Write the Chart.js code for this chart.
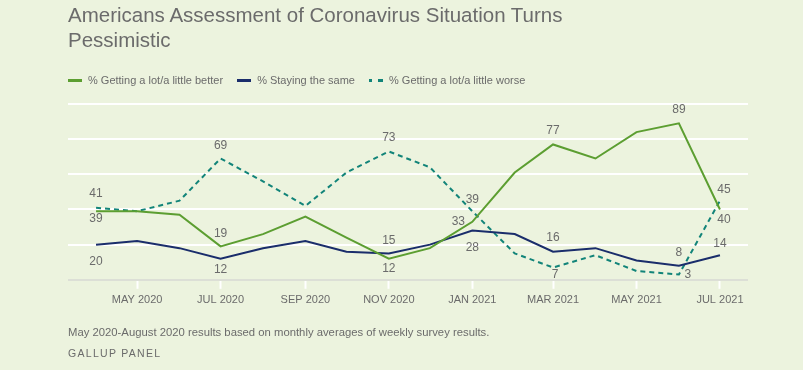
<!DOCTYPE html>
<html>
<head>
<meta charset="utf-8">
<script src="https://cdn.jsdelivr.net/npm/chart.js@4"></script>
<style>
  body { margin: 0; background: #ecf3de; }
  #wrap { position: relative; width: 803px; height: 370px; background: #ecf3de; font-family: "Liberation Sans", Arial, sans-serif; color: #6b6b6b; }
  #chart { position: absolute; left: 0; top: 0; }
  .title { position: absolute; left: 68px; top: 2px; font-size: 20.5px; line-height: 25px; }
  .legend { position: absolute; left: 68px; top: 73px; display: flex; font-size: 11px; line-height: 14px; }
  .legend span { display: flex; align-items: center; margin-right: 14px; }
  .legend i { display: inline-block; width: 14px; height: 0; border-top: 3px solid; margin-right: 6px; }
  .note { position: absolute; left: 68px; top: 326px; font-size: 11.3px; }
  .src { position: absolute; left: 68px; top: 347px; font-size: 10.5px; letter-spacing: 1.3px; }
</style>
</head>
<body>
<div id="wrap">
  <canvas id="chart" width="803" height="370"></canvas>
  <div class="title">Americans Assessment of Coronavirus Situation Turns<br>Pessimistic</div>
  <div class="legend">
    <span><i style="border-color:#5c9e31"></i>% Getting a lot/a little better</span>
    <span><i style="border-color:#1a2d6b"></i>% Staying the same</span>
    <span><i style="border-color:#128479; border-image: repeating-linear-gradient(90deg,#128479 0 4px,transparent 4px 9px) 1;"></i>% Getting a lot/a little worse</span>
  </div>
  <div class="note">May 2020-August 2020 results based on monthly averages of weekly survey results.</div>
  <div class="src">GALLUP PANEL</div>
</div>
<script>
const months = ["2020-04", "2020-05", "2020-06", "2020-07", "2020-08", "2020-09", "2020-10", "2020-11",
  "2020-12", "2021-01", "2021-02", "2021-03", "2021-04", "2021-05", "2021-06", "2021-07"];
const better = [39, 39, 37, 19, 26, 36, 24, 12, 18, 33, 61, 77, 69, 84, 89, 40];
const same = [20, 22, 18, 12, 18, 22, 16, 15, 20, 28, 26, 16, 18, 11, 8, 14];
const worse = [41, 39, 45, 69, 56, 42, 61, 73, 64, 39, 15, 7, 14, 5, 3, 45];

const tickMonths = ["2020-05", "2020-07", "2020-09", "2020-11", "2021-01", "2021-03", "2021-05", "2021-07"];
const tickLabels = ["MAY 2020", "JUL 2020", "SEP 2020", "NOV 2020", "JAN 2021", "MAR 2021", "MAY 2021", "JUL 2021"];

// which points get a value label: [dataset, index, dx, dy]
const labelSpots = [
  [0, 0, 0, 7], [0, 3, 0, -13], [0, 7, 0, 10], [0, 9, -14, 0], [0, 11, 0, -14], [0, 14, 0, -14], [0, 15, 4, 10],
  [1, 0, 0, 17], [1, 3, 0, 11], [1, 7, 0, -13], [1, 9, 0, 17], [1, 11, 0, -14], [1, 14, 0, -13], [1, 15, 0, -12],
  [2, 0, 0, -14], [2, 3, 0, -13], [2, 7, 0, -14], [2, 9, 0, -12], [2, 11, 2, 7], [2, 14, 9, 0], [2, 15, 4, -11]
];

function day(m) {
  const [y, mo] = m.split("-").map(Number);
  return Date.UTC(y, mo - 1, 1) / 86400000;
}

const pts = arr => arr.map((v, i) => ({ x: day(months[i]), y: v }));

const valueLabels = {
  id: "valueLabels",
  afterDatasetsDraw(chart) {
    const ctx = chart.ctx;
    ctx.save();
    ctx.font = "12px 'Liberation Sans', Arial, sans-serif";
    ctx.fillStyle = "#6b6b6b";
    ctx.textAlign = "center";
    ctx.textBaseline = "middle";
    labelSpots.forEach(([d, i, dx, dy]) => {
      const p = chart.getDatasetMeta(d).data[i];
      const v = chart.data.datasets[d].data[i].y;
      ctx.fillText(v, p.x + dx, p.y + dy);
    });
    ctx.restore();
  }
};

new Chart(document.getElementById("chart"), {
  type: "line",
  data: {
    datasets: [
      { label: "% Getting a lot/a little better", data: pts(better), borderColor: "#5c9e31", borderWidth: 2 },
      { label: "% Staying the same", data: pts(same), borderColor: "#1a2d6b", borderWidth: 2 },
      { label: "% Getting a lot/a little worse", data: pts(worse), borderColor: "#128479", borderWidth: 2, borderDash: [5, 4] }
    ]
  },
  options: {
    responsive: false,
    animation: false,
    layout: { padding: { left: 68, right: 55, top: 104, bottom: 58 } },
    elements: { point: { radius: 0 }, line: { tension: 0 } },
    plugins: { legend: { display: false }, tooltip: { enabled: false } },
    scales: {
      x: {
        type: "linear",
        min: day("2020-04") - 20.5,
        max: day("2021-07") + 20.5,
        afterBuildTicks: axis => { axis.ticks = tickMonths.map(m => ({ value: day(m) })); },
        ticks: {
          autoSkip: false,
          maxRotation: 0,
          padding: 5,
          color: "#6b6b6b",
          font: { size: 11, family: "'Liberation Sans', Arial, sans-serif" },
          callback: v => tickLabels[tickMonths.findIndex(m => day(m) === v)]
        },
        grid: { drawOnChartArea: false, drawTicks: true, tickLength: 9, tickColor: "#ffffff", tickWidth: 2 },
        border: { display: false }
      },
      y: {
        min: 0,
        max: 100,
        ticks: { display: false, stepSize: 20 },
        grid: {
          drawTicks: false,
          lineWidth: 2,
          color: c => c.tick.value === 0 ? "#dcdfd6" : "#ffffff"
        },
        border: { display: false }
      }
    }
  },
  plugins: [valueLabels]
});
</script>
</body>
</html>
